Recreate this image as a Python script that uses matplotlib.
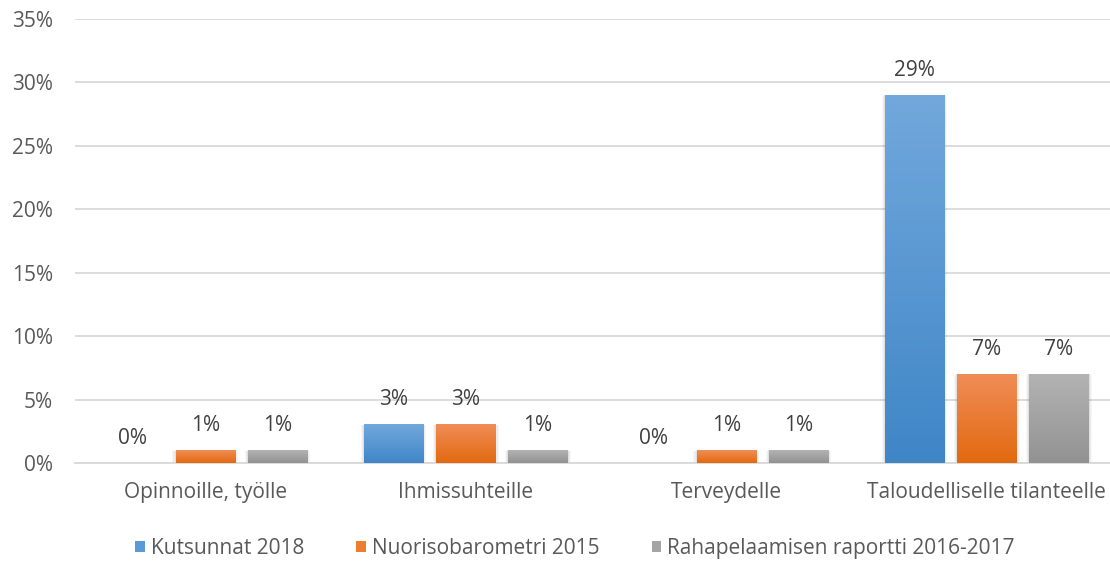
import numpy as np
import matplotlib
matplotlib.use('Agg')
import matplotlib.pyplot as plt
from matplotlib.colors import LinearSegmentedColormap
from matplotlib.patches import Patch, Rectangle
from matplotlib.ticker import MultipleLocator, FuncFormatter

categories = ['Opinnoille, työlle', 'Ihmissuhteille', 'Terveydelle',
              'Taloudelliselle tilanteelle']
series_names = ['Kutsunnat 2018', 'Nuorisobarometri 2015',
                'Rahapelaamisen raportti 2016-2017']
kutsunnat = [0, 3, 0, 29]
nuorisobarometri = [1, 3, 1, 7]
rahapelaaminen = [1, 1, 1, 7]

# gradient colours per series: (top, bottom)
grad = [('#72a8dc', '#3f86c7'), ('#f08d57', '#e2690f'), ('#b3b3b3', '#929292')]
legend_colors = ['#5b9bd5', '#ed7d31', '#a5a5a5']
fs = 15

plt.rcParams['font.family'] = ['Open Sans', 'DejaVu Sans']
fig = plt.figure(figsize=(11.1, 5.61), dpi=100)
ax = fig.add_axes([75 / 1110, 1 - 463 / 561, (1117 - 75) / 1110, (463 - 19) / 561])

x = np.arange(len(categories))
width = 0.228
step = 0.2775
ramp = np.linspace(0, 1, 256).reshape(-1, 1)

for i, (vals, (top, bot)) in enumerate(zip([kutsunnat, nuorisobarometri, rahapelaaminen], grad)):
    pos = x + (i - 1) * step
    bars = ax.bar(pos, vals, width, color='none', zorder=3)
    cmap = LinearSegmentedColormap.from_list('g%d' % i, [bot, top])
    for b, p, v in zip(bars, pos, vals):
        if v > 0:
            x0 = b.get_x()
            # soft shadow behind the bar
            for k, a in enumerate([0.05, 0.04, 0.03]):
                d = 0.004 * (k + 1)
                ax.add_patch(Rectangle((x0 - d, -0.1 * (k + 1)), width + 2 * d,
                                       v + 0.1 * (k + 1) - 0.02 * k,
                                       facecolor='black', alpha=a, lw=0, zorder=2))
            ax.imshow(ramp, extent=[x0, x0 + width, 0, v], origin='lower',
                      aspect='auto', cmap=cmap, zorder=3)
        ax.annotate('%d%%' % v, (p, v), xytext=(0, 18), textcoords='offset points',
                    ha='center', va='center', fontsize=fs, color='#404040')

ax.set_xlim(-0.5, 3.5)
ax.set_ylim(0, 35)
ax.yaxis.set_major_locator(MultipleLocator(5))
ax.yaxis.set_major_formatter(FuncFormatter(lambda v, _: '%d%%' % v))
ax.yaxis.grid(True, color='#d9d9d9', lw=1.3, zorder=0)
ax.set_axisbelow(True)
for s in ['top', 'right', 'left']:
    ax.spines[s].set_visible(False)
ax.spines['bottom'].set_color('#d9d9d9')
ax.spines['bottom'].set_linewidth(1.3)
ax.set_xticks(x)
ax.set_xticklabels(categories)
ax.tick_params(axis='x', length=0, pad=14, labelsize=fs, labelcolor='#595959')
ax.tick_params(axis='y', length=0, pad=16, labelsize=fs, labelcolor='#595959')

handles = [Patch(facecolor=c, edgecolor='none') for c in legend_colors]
leg = fig.legend(handles, series_names, loc='center', bbox_to_anchor=(0.518, 0.022),
                 ncol=3, frameon=False, handlelength=0.45, handleheight=0.45,
                 handletextpad=0.3, columnspacing=2.5, fontsize=fs)
for t in leg.get_texts():
    t.set_color('#595959')

fig.savefig('out.png', dpi=100)
